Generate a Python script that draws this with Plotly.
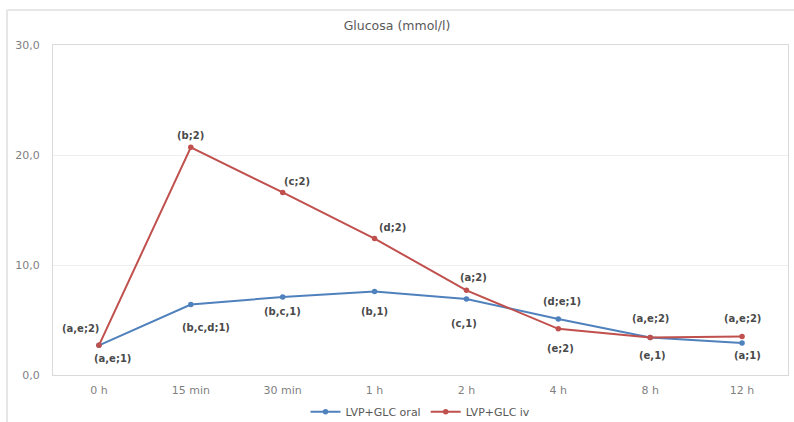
import plotly.graph_objects as go

# Sampling times and mean glucose (mmol/l) per treatment
times = ["0 h", "15 min", "30 min", "1 h", "2 h", "4 h", "8 h", "12 h"]
oral = [2.7, 6.4, 7.1, 7.6, 6.9, 5.1, 3.4, 2.9]
iv = [2.7, 20.7, 16.6, 12.4, 7.7, 4.2, 3.4, 3.5]

# Significance letters for each point
oral_labels = ["(a,e;1)", "(b,c,d;1)", "(b,c,1)", "(b,1)", "(c,1)", "(d;e;1)", "(e,1)", "(a;1)"]
iv_labels = ["(a,e;2)", "(b;2)", "(c;2)", "(d;2)", "(a;2)", "(e;2)", "(a,e;2)", "(a,e;2)"]

# Pixel offsets of each label from its point (x right, y up)
oral_shift = [(14, -13), (15, -23), (0, -15), (0, -20), (-2, -24), (4, 17), (2, -18), (5, -12)]
iv_shift = [(-18, 17), (0, 12), (14, 11), (18, 11), (7, 13), (2, -20), (0, 19), (0, 18)]

BLUE = "#4F81BD"
RED = "#C0504D"
FONT = "DejaVu Sans, Verdana, sans-serif"

fig = go.Figure()
fig.add_trace(go.Scatter(
    x=times, y=oral, name="LVP+GLC oral", mode="lines+markers",
    line=dict(color=BLUE, width=2), marker=dict(color=BLUE, size=5.5),
))
fig.add_trace(go.Scatter(
    x=times, y=iv, name="LVP+GLC iv", mode="lines+markers",
    line=dict(color=RED, width=2), marker=dict(color=RED, size=5.5),
))

annotations = []
for labels, vals, shifts in ((oral_labels, oral, oral_shift), (iv_labels, iv, iv_shift)):
    for t, v, lab, (dx, dy) in zip(times, vals, labels, shifts):
        annotations.append(dict(
            x=t, y=v, text=f"<b>{lab}</b>", showarrow=False, xshift=dx, yshift=dy,
            font=dict(family=FONT, size=10, color="#4a4a4a"),
        ))

# Outer chart frame (top and left edges)
shapes = [
    dict(type="line", xref="paper", yref="paper", x0=-0.0625, x1=1.2, y0=1.106, y1=1.106,
         line=dict(color="#e6e6e6", width=2)),
    dict(type="line", xref="paper", yref="paper", x0=-0.0625, x1=-0.0625, y0=1.106, y1=-0.3,
         line=dict(color="#e6e6e6", width=2)),
]

fig.update_layout(
    width=794, height=422,
    margin=dict(l=53, r=6, t=45, b=47, autoexpand=False),
    paper_bgcolor="white", plot_bgcolor="white",
    separators=",.",
    font=dict(family=FONT, color="#7f7f7f", size=11),
    title=dict(text="Glucosa (mmol/l)", x=0.5, xanchor="center",
               y=0.94, yanchor="middle",
               font=dict(family=FONT, size=12.5, color="#595959")),
    showlegend=True,
    legend=dict(orientation="h", x=0.5, xanchor="center",
                yref="container", y=0.024, yanchor="middle",
                bgcolor="rgba(0,0,0,0)",
                font=dict(family=FONT, size=11, color="#595959")),
    annotations=annotations,
    shapes=shapes,
)
fig.update_xaxes(
    type="category", range=[-0.5, 7.5], showgrid=False, ticks="",
    showline=True, linecolor="#d9d9d9", linewidth=1, mirror=True,
    ticklabelstandoff=5,
    tickfont=dict(family=FONT, size=11, color="#7f7f7f"),
)
fig.update_yaxes(
    range=[0, 30], tickvals=[0, 10, 20, 30], tickformat=".1f",
    showgrid=True, gridcolor="#eeeeee", gridwidth=1, zeroline=False,
    showline=True, linecolor="#d9d9d9", linewidth=1, mirror=True,
    ticks="", ticklabelstandoff=10,
    tickfont=dict(family=FONT, size=11, color="#7f7f7f"),
)

fig.write_html("out.html")
